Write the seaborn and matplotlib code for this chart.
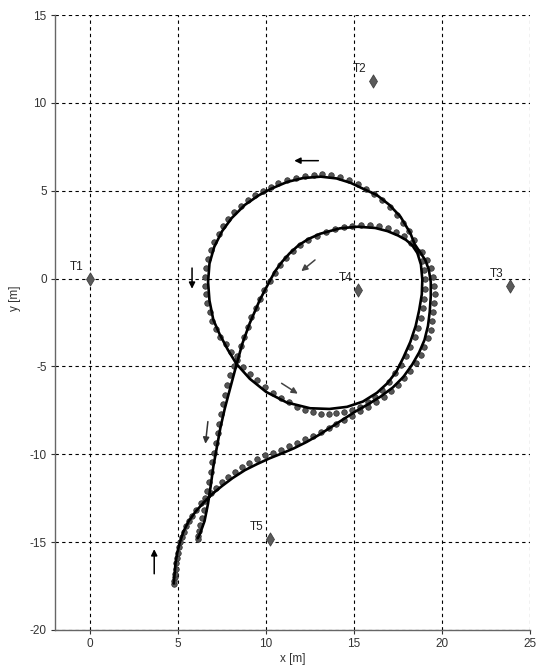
import matplotlib
matplotlib.use("Agg")
import matplotlib.pyplot as plt
import seaborn as sns
import pandas as pd

# estimated track (solid line), in driving order, [m]
track_lower = [(4.75, -17.35), (4.8, -16.8), (4.85, -16.2), (4.95, -15.6), (5.1, -15.0),
               (5.3, -14.4), (5.6, -13.8), (6.0, -13.25), (6.45, -12.75), (6.95, -12.25),
               (7.5, -11.8), (8.1, -11.35), (8.8, -10.9), (9.5, -10.55), (10.2, -10.23),
               (10.9, -9.95), (11.6, -9.65), (12.3, -9.3), (13.0, -8.9), (13.7, -8.45),
               (14.4, -8.0), (15.1, -7.55), (15.8, -7.15), (16.5, -6.72), (17.2, -6.2),
               (17.8, -5.6), (18.3, -4.9), (18.7, -4.2), (19.0, -3.5), (19.2, -2.7),
               (19.3, -1.9), (19.36, -1.0), (19.36, -0.2), (19.25, 0.5), (19.05, 1.05),
               (18.75, 1.5), (18.45, 1.95)]
track_circle = [(18.2, 2.58), (17.64, 3.52), (17.0, 4.2), (16.3, 4.75), (15.54, 5.1),
                (14.8, 5.45), (14.0, 5.7), (13.1, 5.8), (12.1, 5.72), (11.2, 5.5),
                (10.3, 5.12), (9.6, 4.75), (8.8, 4.2), (8.05, 3.45), (7.5, 2.7),
                (7.05, 1.8), (6.78, 0.85), (6.7, -0.2), (6.78, -1.25), (7.0, -2.35),
                (7.35, -3.15), (7.83, -4.06), (8.31, -4.85), (9.07, -5.7), (10.0, -6.45),
                (11.17, -7.05), (12.5, -7.38), (13.6, -7.42), (14.6, -7.3), (15.5, -7.0),
                (16.3, -6.5), (16.9, -5.95), (17.4, -5.3), (17.8, -4.5), (18.2, -3.6),
                (18.5, -2.7), (18.7, -1.8), (18.85, -0.9), (18.88, -0.05), (18.8, 0.8),
                (18.6, 1.45), (18.3, 1.9)]
track_inner = [(17.95, 2.2), (17.5, 2.45), (16.9, 2.7), (16.2, 2.88), (15.2, 2.95),
               (14.2, 2.86), (13.07, 2.55), (12.4, 2.25), (11.85, 1.9), (11.35, 1.45),
               (10.9, 0.95), (10.5, 0.4), (10.2, -0.15)]
track_return = [(9.64, -1.22), (9.07, -2.54), (8.65, -3.7), (8.31, -4.92), (7.93, -6.34),
                (7.65, -7.4), (7.4, -8.5), (7.2, -9.6), (7.0, -10.7), (6.85, -11.8),
                (6.7, -12.8), (6.5, -13.8), (6.25, -14.5), (6.11, -14.78)]

# raw position fixes (dots)
dots_lower = [(4.75, -17.4), (4.78, -17.2), (4.8, -17.0), (4.82, -16.8), (4.85, -16.5),
              (4.88, -16.2), (4.92, -15.9), (4.98, -15.6), (5.05, -15.3), (5.12, -15.0),
              (5.2, -14.7), (5.32, -14.4), (5.45, -14.1), (5.6, -13.8), (5.8, -13.5),
              (6.02, -13.15), (6.28, -12.8), (6.55, -12.5), (6.85, -12.2), (7.15, -11.9),
              (7.5, -11.6), (7.85, -11.3), (8.25, -11.0), (8.65, -10.75), (9.05, -10.5),
              (9.5, -10.25), (9.95, -10.05), (10.4, -9.9), (10.85, -9.75), (11.3, -9.55),
              (11.75, -9.35), (12.2, -9.15), (12.65, -8.95), (13.1, -8.75), (13.55, -8.5),
              (14.0, -8.3), (14.45, -8.05), (14.9, -7.8), (15.35, -7.55), (15.8, -7.3),
              (16.25, -7.0), (16.7, -6.75), (17.1, -6.4), (17.5, -6.05), (17.85, -5.65),
              (18.2, -5.25), (18.5, -4.8), (18.78, -4.35), (19.0, -3.9), (19.2, -3.4),
              (19.35, -2.9), (19.45, -2.4), (19.5, -1.9), (19.55, -1.4), (19.58, -0.9),
              (19.55, -0.4), (19.48, 0.1), (19.35, 0.6), (19.15, 1.05), (18.85, 1.5)]
dots_circle = [(18.4, 2.2), (18.1, 2.7), (17.8, 3.15), (17.45, 3.6), (17.05, 4.05),
               (16.6, 4.45), (16.15, 4.8), (15.7, 5.1), (15.2, 5.4), (14.7, 5.6),
               (14.2, 5.78), (13.7, 5.9), (13.2, 5.95), (12.7, 5.9), (12.2, 5.85),
               (11.7, 5.75), (11.2, 5.6), (10.7, 5.42), (10.25, 5.22), (9.8, 5.0),
               (9.35, 4.75), (8.95, 4.45), (8.55, 4.12), (8.2, 3.78), (7.85, 3.4),
               (7.55, 2.98), (7.3, 2.55), (7.05, 2.1), (6.85, 1.6), (6.7, 1.1),
               (6.58, 0.6), (6.52, 0.1), (6.52, -0.4), (6.58, -0.9), (6.65, -1.4),
               (6.8, -1.9), (6.95, -2.4), (7.15, -2.85), (7.4, -3.3), (7.7, -3.75),
               (8.0, -4.2), (8.35, -4.65), (8.7, -5.05), (9.1, -5.45), (9.5, -5.8),
               (9.95, -6.15), (10.4, -6.5), (10.85, -6.8), (11.3, -7.05), (11.75, -7.3),
               (12.2, -7.48), (12.65, -7.62), (13.1, -7.68), (13.55, -7.68), (14.0, -7.66),
               (14.45, -7.58), (14.9, -7.46), (15.35, -7.3), (15.8, -7.05), (16.2, -6.75),
               (16.6, -6.35), (17.0, -5.9), (17.35, -5.4), (17.65, -4.9), (17.95, -4.4),
               (18.2, -3.9), (18.45, -3.35), (18.62, -2.8), (18.78, -2.25), (18.9, -1.7),
               (18.98, -1.15), (19.02, -0.6), (19.02, -0.05), (18.98, 0.5), (18.88, 1.0),
               (18.68, 1.5)]
dots_inner = [(18.25, 2.05), (17.85, 2.42), (17.4, 2.66), (16.9, 2.9), (16.4, 3.0),
              (15.9, 3.05), (15.4, 3.05), (14.9, 3.0), (14.4, 2.95), (13.9, 2.82),
              (13.4, 2.66), (12.9, 2.45), (12.4, 2.2), (11.95, 1.9), (11.55, 1.55),
              (11.15, 1.15), (10.8, 0.75), (10.5, 0.3), (10.2, -0.15)]
dots_return = [(9.9, -0.65), (9.65, -1.15), (9.4, -1.7), (9.15, -2.2), (8.95, -2.75),
               (8.75, -3.3), (8.55, -3.85), (8.35, -4.4), (8.15, -4.95), (7.95, -5.5),
               (7.8, -6.05), (7.65, -6.6), (7.55, -7.15), (7.45, -7.7), (7.35, -8.25),
               (7.25, -8.8), (7.15, -9.35), (7.05, -9.9), (6.95, -10.45), (6.85, -11.0),
               (6.75, -11.55), (6.65, -12.1), (6.55, -12.65), (6.45, -13.15), (6.35, -13.6),
               (6.25, -14.0), (6.2, -14.35), (6.15, -14.65), (6.1, -14.8)]

# transmitters
tx_names = ["T1", "T2", "T3", "T4", "T5"]
tx_x = [0.0, 16.05, 23.85, 15.25, 10.2]
tx_y = [0.0, 11.25, -0.4, -0.65, -14.8]

# driving direction arrows: tail -> head
arrow_tail = [(3.64, -16.8), (6.69, -8.14), (5.79, 0.6), (12.97, 6.71), (10.88, -5.96), (12.78, 1.06)]
arrow_head = [(3.64, -15.4), (6.55, -9.4), (5.79, -0.58), (11.6, 6.71), (11.8, -6.55), (12.0, 0.42)]
arrow_color = ["black", "#333333", "black", "black", "#444444", "#444444"]

sns.set_theme(style="white")
plt.rcParams["font.family"] = ["Liberation Sans", "DejaVu Sans"]
plt.rcParams["axes.unicode_minus"] = False

track = pd.DataFrame(track_lower + track_circle + track_inner + track_return, columns=["x", "y"])
dots = pd.DataFrame(dots_lower + dots_circle + dots_inner + dots_return, columns=["x", "y"])
tx = pd.DataFrame({"name": tx_names, "x": tx_x, "y": tx_y})

fig = plt.figure(figsize=(5.36, 6.66), dpi=100)
ax = fig.add_axes([55 / 536, 36 / 666, 475 / 536, 615 / 666])

sns.scatterplot(data=dots, x="x", y="y", ax=ax, s=16, color="#555555",
                edgecolor="#2e2e2e", linewidth=0.5, zorder=3)
sns.lineplot(data=track, x="x", y="y", ax=ax, sort=False, estimator=None,
             color="black", linewidth=1.9, zorder=4)
sns.scatterplot(data=tx, x="x", y="y", ax=ax, marker="d", s=45, color="#5a5a5a",
                edgecolor="#404040", linewidth=0.6, zorder=5)

for _, r in tx.iterrows():
    ax.text(r["x"] - 0.75, r["y"] + 0.68, r["name"], ha="center", va="center",
            fontsize=8.5, color="#222222", zorder=6)

for (x0, y0), (x1, y1), c in zip(arrow_tail, arrow_head, arrow_color):
    ax.annotate("", xy=(x1, y1), xytext=(x0, y0),
                arrowprops=dict(arrowstyle="-|>", color=c, lw=1.1, mutation_scale=9,
                                shrinkA=0, shrinkB=0), zorder=6)

ax.set_xlim(-2, 25)
ax.set_ylim(-20, 15)
ax.set_xticks(range(0, 26, 5))
ax.set_yticks(range(-20, 16, 5))
ax.grid(True, color="black", linestyle=(0, (3, 3)), linewidth=0.8)
ax.set_axisbelow(True)
for side in ["top", "right"]:
    ax.spines[side].set_visible(False)
for side in ["left", "bottom"]:
    ax.spines[side].set_color("#666666")
    ax.spines[side].set_linewidth(1.0)
ax.tick_params(axis="both", which="major", labelsize=8.5, colors="#333333", length=3,
               width=0.8, direction="out", left=True, bottom=True, pad=3)
ax.set_xlabel("x [m]", fontsize=8.5, color="#333333", labelpad=2)
ax.set_ylabel("y [m]", fontsize=8.5, color="#333333")
ax.yaxis.set_label_coords(-0.072, 0.54)

fig.savefig("out.png", dpi=100)
plt.close(fig)
